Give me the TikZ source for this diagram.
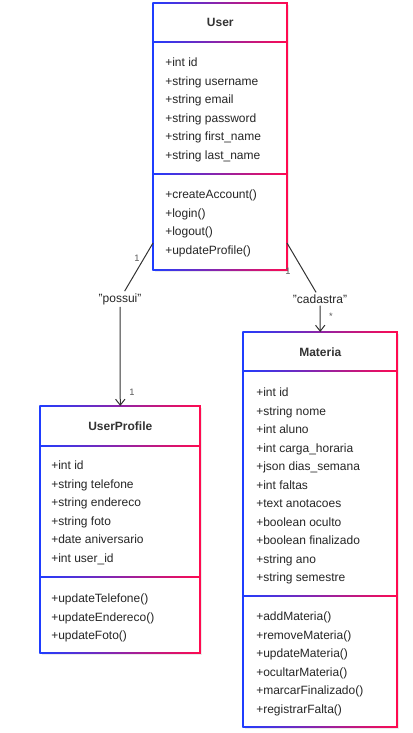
\documentclass[tikz,border=0pt]{standalone}
\usepackage{fontspec}
\setmainfont{Liberation Sans}
\usetikzlibrary{arrows.meta}

\definecolor{gblue}{HTML}{1F3DFF}
\definecolor{gred}{HTML}{FF0A50}

\tikzset{
  member/.style={anchor=base west, inner sep=0pt, font=\fontsize{9}{10}\selectfont, text=black!85},
  classname/.style={anchor=north west, inner sep=0pt, font=\bfseries\fontsize{9}{10}\selectfont, text=black!80, minimum height=29.25pt},
  relname/.style={inner sep=1.5pt, fill=white, font=\fontsize{9}{10}\selectfont, text=black!85},
  mult/.style={inner sep=0pt, font=\fontsize{7}{8}\selectfont, text=black!65},
  assoc/.style={draw=black!80, line width=0.75pt},
}

% box with blue->red border: left, top, right, bottom, sep1, sep2
\newcommand\classframe[6]{%
  \fill[black!8] (#1+2,#2+2) rectangle (#3+2,#4+2);
  \fill[white] (#1,#2) rectangle (#3,#4);
  \foreach \yy in {#2,#5,#6,#4}
    \shade[left color=gblue, right color=gred] (#1-0.75,\yy-0.75) rectangle (#3+0.75,\yy+0.75);
  \fill[gblue] (#1-0.75,#2) rectangle (#1+0.75,#4);
  \fill[gred] (#3-0.75,#2) rectangle (#3+0.75,#4);
}

\begin{document}
\begin{tikzpicture}[x=0.75pt, y=-0.75pt]
  \useasboundingbox (0,0) rectangle (413,733);

  % User
  \classframe{153}{3}{287}{270}{42}{174}
  \node[classname, minimum width=100.5pt] (user) at (153,3) {User};
  \foreach [count=\i] \t in {+int id, +string username, +string email, +string password, +string first\_name, +string last\_name}
    \node[member] (user-a\i) at (165,{62+18.6*(\i-1)+4.5}) {\t};
  \foreach [count=\i] \t in {+createAccount(), +login(), +logout(), +updateProfile()}
    \node[member] (user-m\i) at (165,{194+18.6*(\i-1)+4.5}) {\t};

  % UserProfile
  \classframe{40}{406}{200}{653}{446}{577}
  \node[classname, minimum width=120pt] (profile) at (40,406) {UserProfile};
  \foreach [count=\i] \t in {+int id, +string telefone, +string endereco, +string foto, +date aniversario, +int user\_id}
    \node[member] (profile-a\i) at (51,{465+18.6*(\i-1)+4.5}) {\t};
  \foreach [count=\i] \t in {+updateTelefone(), +updateEndereco(), +updateFoto()}
    \node[member] (profile-m\i) at (51,{598+18.6*(\i-1)+4.5}) {\t};

  % Materia
  \classframe{243}{332}{397}{727}{371}{596}
  \node[classname, minimum width=115.5pt] (materia) at (243,332) {Materia};
  \foreach [count=\i] \t in {+int id, +string nome, +int aluno, +int carga\_horaria, +json dias\_semana, +int faltas, +text anotacoes, +boolean oculto, +boolean finalizado, +string ano, +string semestre}
    \node[member] (materia-a\i) at (256,{392+18.5*(\i-1)+4.5}) {\t};
  \foreach [count=\i] \t in {+addMateria(), +removeMateria(), +updateMateria(), +ocultarMateria(), +marcarFinalizado(), +registrarFalta()}
    \node[member] (materia-m\i) at (256,{616+18.6*(\i-1)+4.5}) {\t};

  % associations
  \coordinate (user-l) at (153,243);
  \coordinate (user-r) at (287,243);
  \node[relname] (possui) at (120,299) {"possui"};
  \node[relname] (cadastra) at (320,299) {"cadastra"};
  \draw[assoc] (user-l) -- (possui);
  \draw[assoc, -{Straight Barb[length=4.5pt, width=7pt]}] (possui) -- (profile.north);
  \draw[assoc] (user-r) -- (cadastra);
  \draw[assoc, -{Straight Barb[length=4.5pt, width=7pt]}] (cadastra) -- (materia.north);

  \node[mult] (m-user-l) at (137,258) {1};
  \node[mult] (m-profile) at (132,392) {1};
  \node[mult] (m-user-r) at (288,271) {1};
  \node[mult] (m-materia) at (331,316) {*};
\end{tikzpicture}
\end{document}
